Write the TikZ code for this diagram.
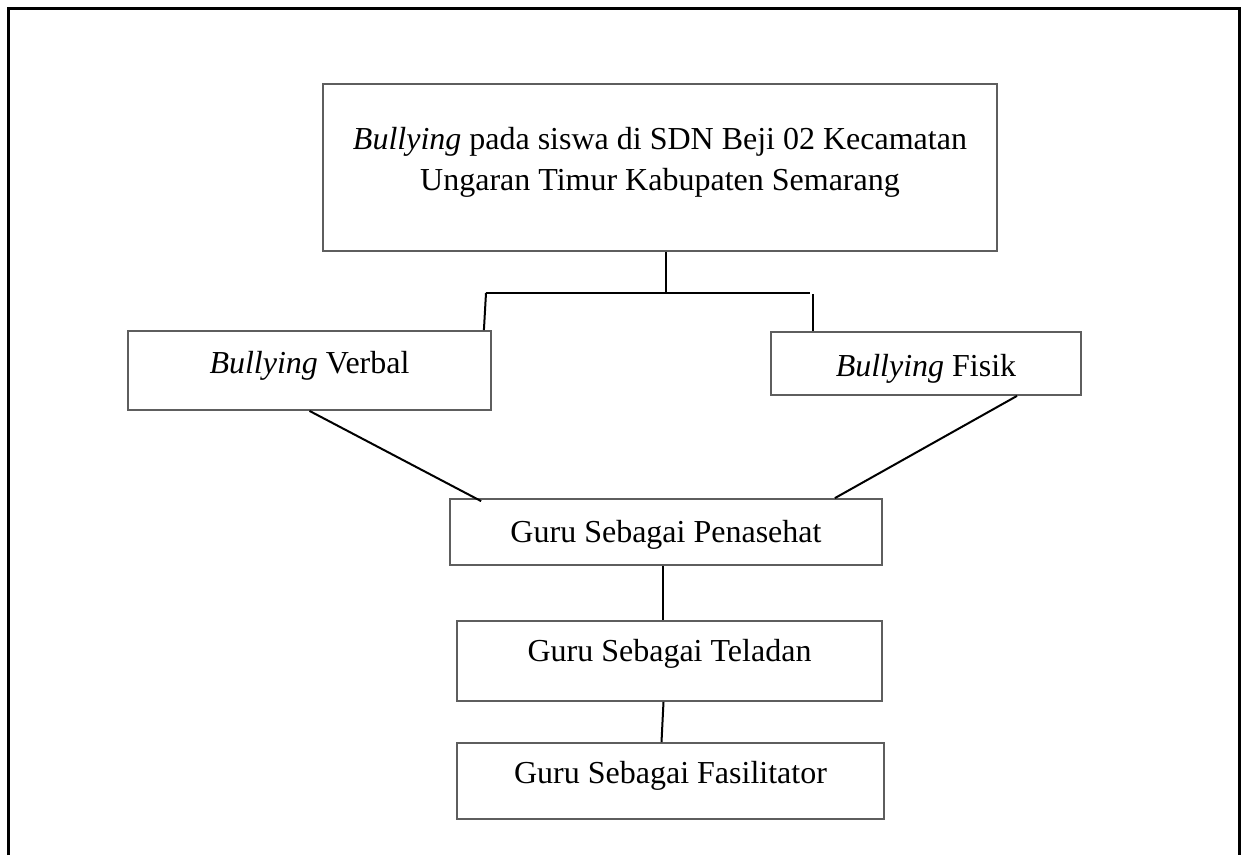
\documentclass[tikz,border=0pt]{standalone}
\usepackage{fontspec}
\setmainfont{Liberation Serif}
\definecolor{boxgray}{HTML}{5E5E5E}
\tikzset{
  box/.style={draw=boxgray, line width=1.8pt, rectangle, inner sep=0pt,
    align=center, font=\fontsize{32}{41}\selectfont},
  link/.style={draw=black, line width=2pt}
}
\begin{document}
\begin{tikzpicture}[x=1pt,y=-1pt]
      \useasboundingbox (0,0) rectangle (1242,855);
      \draw[line width=3pt] (8,855) -- (8,8) -- (1239,8) -- (1239,855);
      \draw
        (660,167.5) node[box, minimum width=674, minimum height=167] (top)
          {\textit{Bullying} pada siswa di SDN Beji 02 Kecamatan\\Ungaran Timur Kabupaten Semarang\\[-24pt]}
        (309.5,370.5) node[box, minimum width=363, minimum height=79, text depth=17pt] (verbal){\textit{Bullying} Verbal}
        (926,363.5) node[box, minimum width=310, minimum height=63, text height=32pt] (fisik){\textit{Bullying} Fisik}
        (666,532) node[box, minimum width=432, minimum height=66, text height=28pt] (pen){Guru Sebagai Penasehat}
        (669.5,661) node[box, minimum width=425, minimum height=80, text depth=21pt] (tel){Guru Sebagai Teladan}
        (670.5,781) node[box, minimum width=427, minimum height=76, text depth=18pt] (fas){Guru Sebagai Fasilitator};
      \coordinate (split) at (666,293);
      \coordinate (lb) at (486,293);
      \coordinate (rb) at (810,293);
      \coordinate (rt) at (813,294);
      \begin{scope}[link]
        \draw (top.south -| split) to (split);
        \draw (lb) to (rb);
        \draw (lb) to ([xshift=-8]verbal.north east);
        \draw (rt) to (rt |- fisik.north);
        \draw (verbal.south) to ([xshift=32,yshift=-3]pen.north west);
        \draw ([xshift=91]fisik.south) to ([xshift=-48]pen.north east);
        \draw ([xshift=-3]pen.south) to ([xshift=-3]pen.south |- tel.north);
        \draw ([xshift=-6]tel.south) to ([xshift=-9]fas.north);
      \end{scope}
    \end{tikzpicture}
\end{document}
